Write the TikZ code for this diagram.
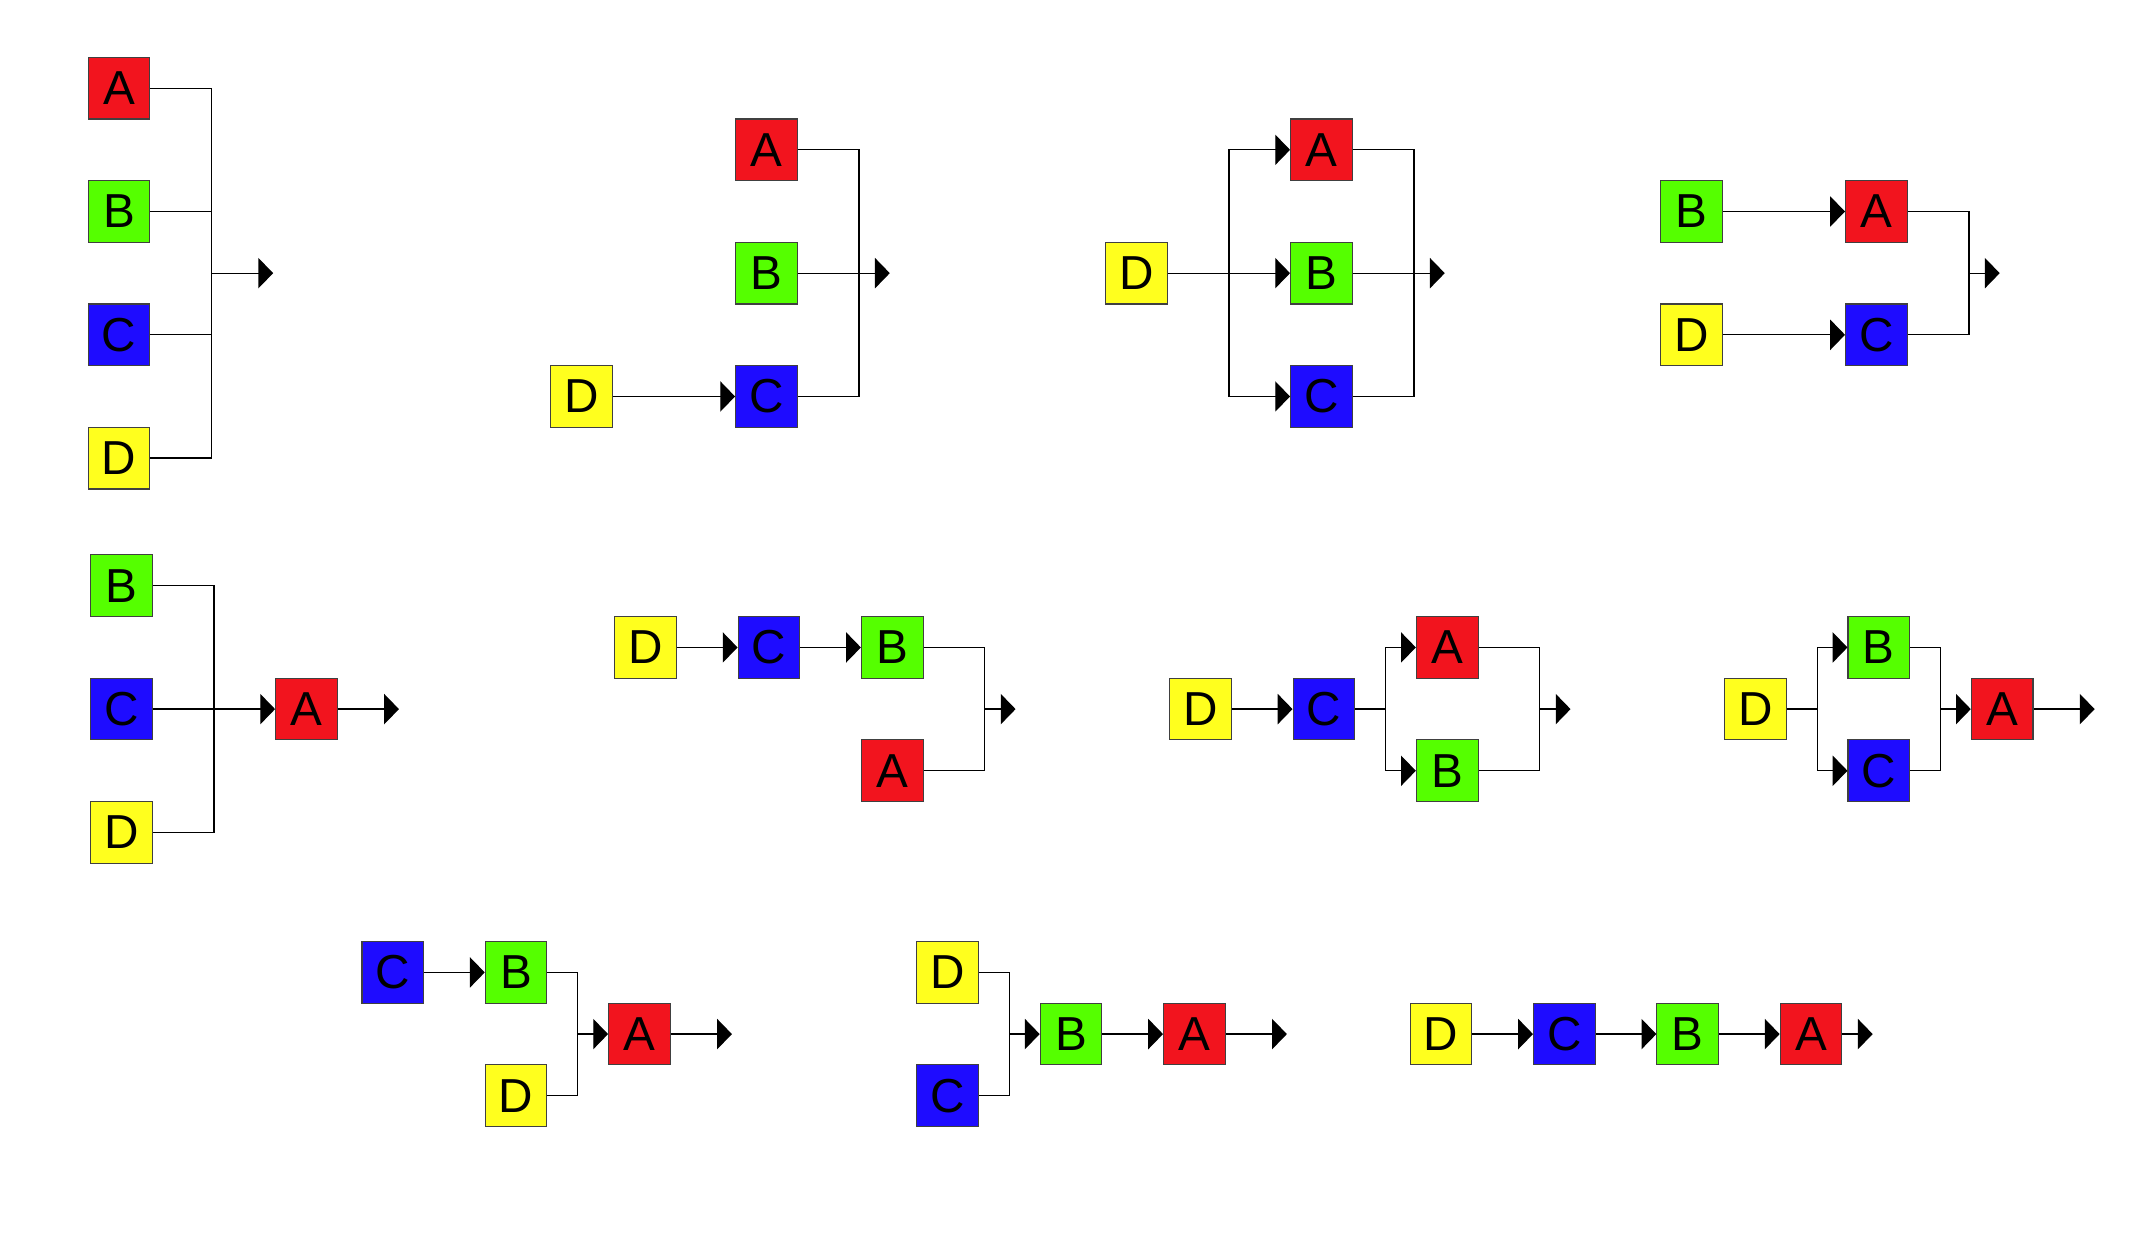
\documentclass[tikz,border=0pt]{standalone}
\usepackage{fontspec}
\setmainfont{Liberation Sans}
\usepackage{tikz}
\usetikzlibrary {arrows.meta}

\definecolor{blkred}{RGB}{242,20,30}
\definecolor{blkgreen}{RGB}{85,255,0}
\definecolor{blkblue}{RGB}{30,12,255}
\definecolor{blkyellow}{RGB}{255,255,30}

\tikzset{
  blk/.style={draw=black!75, line width=0.5pt, minimum size=1cm, inner sep=0pt,
    font=\fontsize{22}{26}\selectfont},
  ba/.style={blk, fill=blkred},
  bb/.style={blk, fill=blkgreen},
  bc/.style={blk, fill=blkblue},
  bd/.style={blk, fill=blkyellow},
  arr/.style={-{Triangle[length=0.24cm,width=0.49cm]}},
  every path/.style={line width=0.6pt}
}

\begin{document}
\begin{tikzpicture}
  \useasboundingbox (0,0) rectangle (34.9,-20.33);

  \node[ba] (a1) at (1.93,-1.43) {A};
  \node[bb] (b1) at (1.93,-3.43) {B};
  \node[bc] (c1) at (1.93,-5.43) {C};
  \node[bd] (d1) at (1.93,-7.43) {D};
  \coordinate (j1) at (3.43,-4.43);
  \coordinate (o1) at (4.43,-4.43);
  \draw (a1.east) -| (j1) |- (d1.east);
  \draw (b1.east) -- (b1.east -| j1);
  \draw (c1.east) -- (c1.east -| j1);
  \draw[arr] (j1) -- (o1);

  \node[ba] (a2) at (12.43,-2.43) {A};
  \node[bb] (b2) at (12.43,-4.43) {B};
  \node[bc] (c2) at (12.43,-6.43) {C};
  \node[bd] (d2) at (9.43,-6.43) {D};
  \coordinate (j2) at (13.93,-4.43);
  \coordinate (o2) at (14.43,-4.43);
  \draw[arr] (d2) -- (c2);
  \draw (a2.east) -| (j2) |- (c2.east);
  \draw[arr] (b2) -- (o2);

  \node[bd] (d3) at (18.43,-4.43) {D};
  \node[ba] (a3) at (21.43,-2.43) {A};
  \node[bb] (b3) at (21.43,-4.43) {B};
  \node[bc] (c3) at (21.43,-6.43) {C};
  \coordinate (s3) at (19.93,-4.43);
  \coordinate (j3) at (22.93,-4.43);
  \coordinate (o3) at (23.43,-4.43);
  \draw[arr] (d3) -- (b3);
  \draw[arr] (s3) |- (a3);
  \draw[arr] (s3) |- (c3);
  \draw (a3.east) -| (j3) |- (c3.east);
  \draw[arr] (b3) -- (o3);

  \node[bb] (b4) at (27.43,-3.43) {B};
  \node[bd] (d4) at (27.43,-5.43) {D};
  \node[ba] (a4) at (30.43,-3.43) {A};
  \node[bc] (c4) at (30.43,-5.43) {C};
  \coordinate (j4) at (31.93,-4.43);
  \coordinate (o4) at (32.43,-4.43);
  \draw[arr] (b4) -- (a4);
  \draw[arr] (d4) -- (c4);
  \draw (a4.east) -| (j4) |- (c4.east);
  \draw[arr] (j4) -- (o4);

  \node[bb] (b5) at (1.97,-9.5) {B};
  \node[bc] (c5) at (1.97,-11.5) {C};
  \node[bd] (d5) at (1.97,-13.5) {D};
  \node[ba] (a5) at (4.97,-11.5) {A};
  \coordinate (j5) at (3.47,-11.5);
  \coordinate (o5) at (6.47,-11.5);
  \draw (b5.east) -| (j5) |- (d5.east);
  \draw[arr] (c5) -- (a5);
  \draw[arr] (a5) -- (o5);

  \node[bd] (d6) at (10.47,-10.5) {D};
  \node[bc] (c6) at (12.47,-10.5) {C};
  \node[bb] (b6) at (14.47,-10.5) {B};
  \node[ba] (a6) at (14.47,-12.5) {A};
  \coordinate (j6) at (15.97,-11.5);
  \coordinate (o6) at (16.47,-11.5);
  \draw[arr] (d6) -- (c6);
  \draw[arr] (c6) -- (b6);
  \draw (b6.east) -| (j6) |- (a6.east);
  \draw[arr] (j6) -- (o6);

  \node[bd] (d7) at (19.47,-11.5) {D};
  \node[bc] (c7) at (21.47,-11.5) {C};
  \node[ba] (a7) at (23.47,-10.5) {A};
  \node[bb] (b7) at (23.47,-12.5) {B};
  \coordinate (s7) at (22.47,-11.5);
  \coordinate (j7) at (24.97,-11.5);
  \coordinate (o7) at (25.47,-11.5);
  \draw[arr] (d7) -- (c7);
  \draw (c7) -- (s7);
  \draw[arr] (s7) |- (a7);
  \draw[arr] (s7) |- (b7);
  \draw (a7.east) -| (j7) |- (b7.east);
  \draw[arr] (j7) -- (o7);

  \node[bd] (d8) at (28.47,-11.5) {D};
  \node[bb] (b8) at (30.47,-10.5) {B};
  \node[bc] (c8) at (30.47,-12.5) {C};
  \node[ba] (a8) at (32.47,-11.5) {A};
  \coordinate (s8) at (29.47,-11.5);
  \coordinate (j8) at (31.47,-11.5);
  \coordinate (o8) at (33.97,-11.5);
  \draw (d8) -- (s8);
  \draw[arr] (s8) |- (b8);
  \draw[arr] (s8) |- (c8);
  \draw (b8.east) -| (j8) |- (c8.east);
  \draw[arr] (j8) -- (a8);
  \draw[arr] (a8) -- (o8);

  \node[bc] (c9) at (6.37,-15.77) {C};
  \node[bb] (b9) at (8.37,-15.77) {B};
  \node[bd] (d9) at (8.37,-17.77) {D};
  \node[ba] (a9) at (10.37,-16.77) {A};
  \coordinate (j9) at (9.37,-16.77);
  \coordinate (o9) at (11.87,-16.77);
  \draw[arr] (c9) -- (b9);
  \draw (b9.east) -| (j9) |- (d9.east);
  \draw[arr] (j9) -- (a9);
  \draw[arr] (a9) -- (o9);

  \node[bd] (d10) at (15.37,-15.77) {D};
  \node[bc] (c10) at (15.37,-17.77) {C};
  \node[bb] (b10) at (17.37,-16.77) {B};
  \node[ba] (a10) at (19.37,-16.77) {A};
  \coordinate (j10) at (16.37,-16.77);
  \coordinate (o10) at (20.87,-16.77);
  \draw (d10.east) -| (j10) |- (c10.east);
  \draw[arr] (j10) -- (b10);
  \draw[arr] (b10) -- (a10);
  \draw[arr] (a10) -- (o10);

  \node[bd] (d11) at (23.37,-16.77) {D};
  \node[bc] (c11) at (25.37,-16.77) {C};
  \node[bb] (b11) at (27.37,-16.77) {B};
  \node[ba] (a11) at (29.37,-16.77) {A};
  \coordinate (o11) at (30.37,-16.77);
  \draw[arr] (d11) -- (c11);
  \draw[arr] (c11) -- (b11);
  \draw[arr] (b11) -- (a11);
  \draw[arr] (a11) -- (o11);
\end{tikzpicture}
\end{document}
